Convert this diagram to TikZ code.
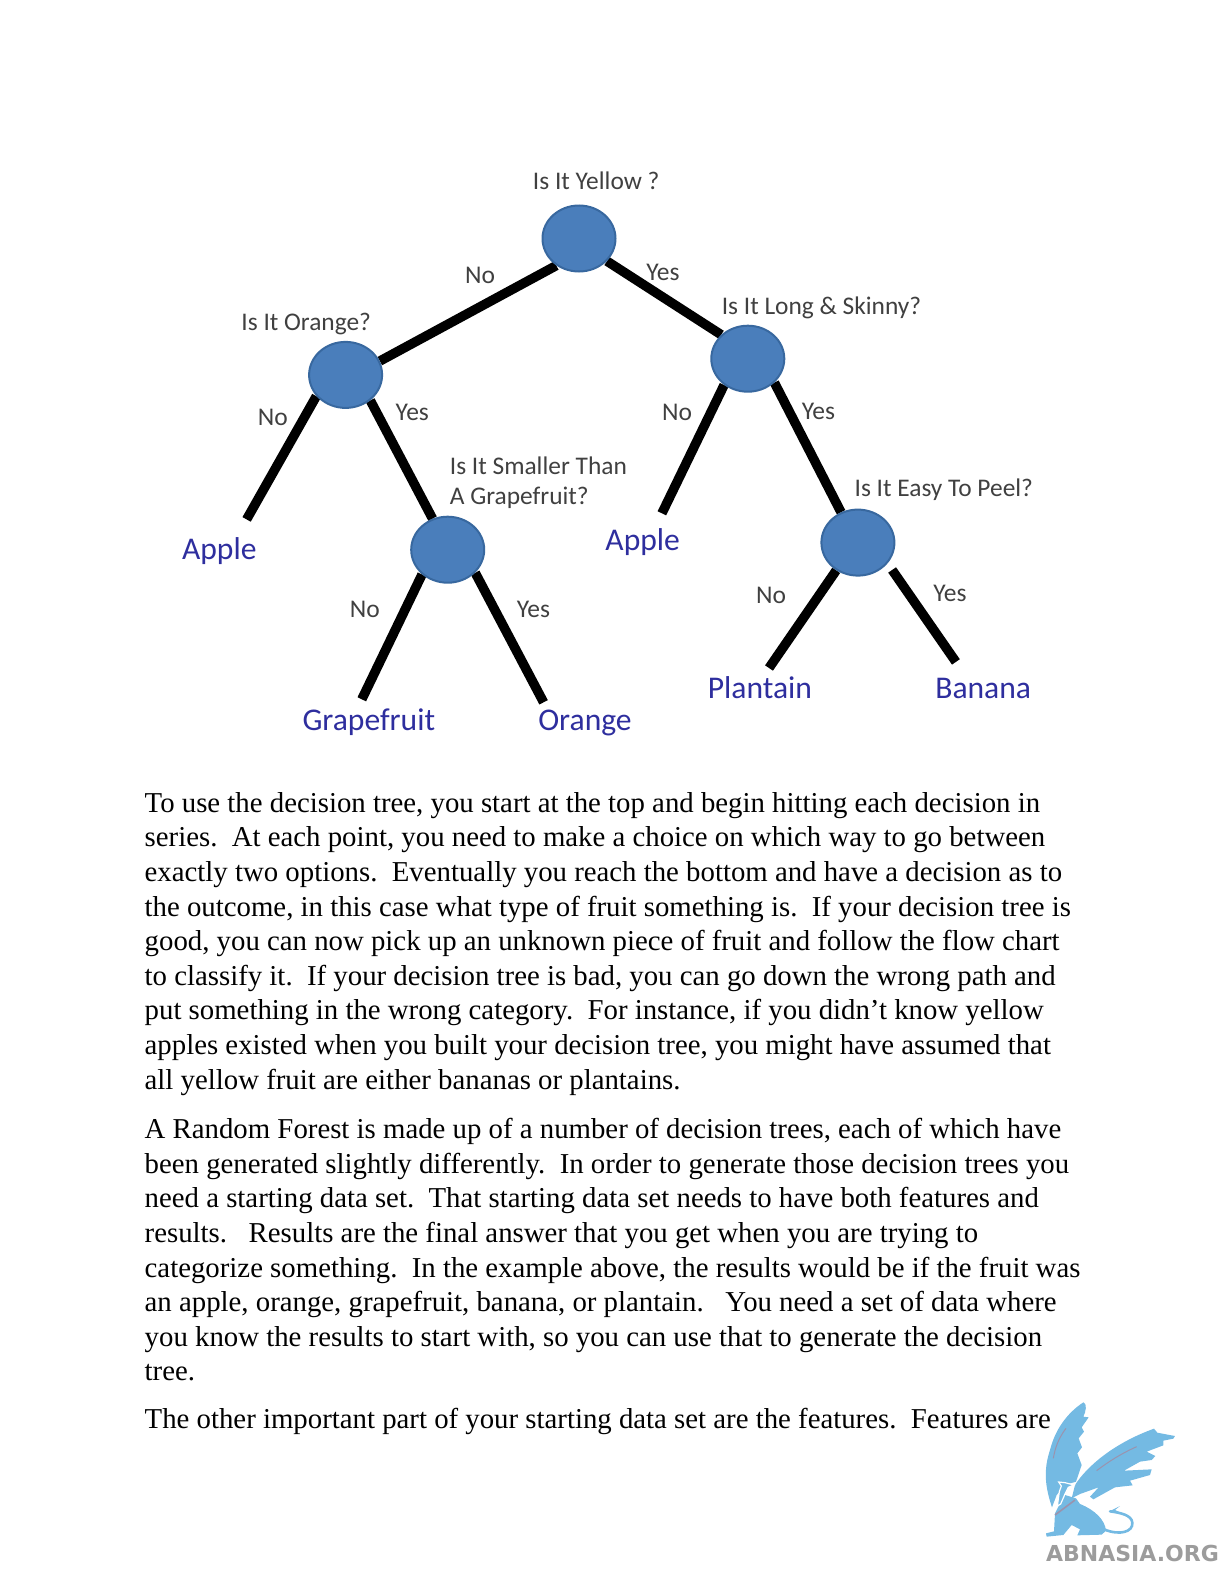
\documentclass[tikz,border=0pt]{standalone}
\usepackage{fontspec}
\setmainfont{Liberation Serif}
\newfontfamily\calibrifont{Carlito}
\newfontfamily\logofont{DejaVu Sans}
\usetikzlibrary{positioning, shapes.geometric, backgrounds}

\definecolor{nodeblue}{HTML}{4A7EBB}
\definecolor{nodeedge}{HTML}{38689F}
\definecolor{leafblue}{HTML}{2E2E9E}
\definecolor{labelgray}{HTML}{404040}
\definecolor{griffin}{HTML}{74BAE3}
\definecolor{streak}{HTML}{9A93AE}
\definecolor{logogray}{HTML}{9C9C9C}

\begin{document}
\begin{tikzpicture}[
    x=1pt, y=-1pt,
    % Styles
    decision/.style={ellipse, draw=nodeedge, fill=nodeblue, line width=2pt, minimum width=73pt, minimum height=66pt, inner sep=0pt},
    branch/.style={line width=9.5pt, black},
    question/.style={font=\calibrifont\fontsize{25.4}{30.3}\selectfont, text=labelgray, inner sep=0pt, align=left},
    answer/.style={font=\calibrifont\fontsize{25.5}{28}\selectfont, text=labelgray, inner sep=0pt},
    leaf/.style={font=\calibrifont\fontsize{31.6}{36}\selectfont, text=leafblue, inner sep=0pt},
    para/.style={font=\fontsize{28.8}{34.6}\selectfont, anchor=north west, align=left, inner sep=0pt},
]

\useasboundingbox (0,0) rectangle (1224,1584);

% Decision nodes
\node[decision] (yellow) at (579,238.5) {};
\node[decision] (orange) at (345.6,374.9) {};
\node[decision] (skinny) at (747.8,358.7) {};
\node[decision] (smaller) at (447.7,549.7) {};
\node[decision] (peel) at (857.9,542.6) {};

% Questions
\node[question] (qyellow) at (596.2,180.9) {Is It Yellow ?};
\node[question] (qorange) at (306.2,324.4) {Is It Orange?};
\node[question] (qskinny) at (821.5,308.2) {Is It Long \& Skinny?};
\node[question, anchor=west] (qsmaller) at (449.7,482.5) {Is It Smaller Than\\A Grapefruit?};
\node[question] (qpeel) at (943.8,490) {Is It Easy To Peel?};

% Leaves
\node[leaf] (apple1) at (219.3,550.7) {Apple};
\node[leaf] (apple2) at (642.7,541.6) {Apple};
\node[leaf] (grapefruit) at (368.8,722.5) {Grapefruit};
\node[leaf] (orangefruit) at (585,722.5) {Orange};
\node[leaf] (plantain) at (759.9,687.2) {Plantain};
\node[leaf] (banana) at (983.2,688.2) {Banana};

% Free ends of the branches
\coordinate (apple1end) at (246.6,519.4);
\coordinate (apple2end) at (661.9,513.3);
\coordinate (grapefruitend) at (361.8,699.3);
\coordinate (orangeend) at (543.6,702.3);
\coordinate (plantainend) at (769,668);
\coordinate (bananaend) at (955.9,661.9);

% Branches
\begin{scope}[on background layer]
    \draw[branch] (yellow.230) -- (orange.22);
    \draw[branch] (yellow.321) -- (skinny.138);
    \draw[branch] (orange.216) -- (apple1end);
    \draw[branch] (orange.314) -- (smaller.116);
    \draw[branch] (skinny.228) -- (apple2end);
    \draw[branch] (skinny.318) -- (peel.119);
    \draw[branch] (smaller.224) -- (grapefruitend);
    \draw[branch] (smaller.320) -- (orangeend);
    \draw[branch] (peel.232) -- (plantainend);
    \draw[branch, shorten <=8pt] (peel.325) -- (bananaend);
\end{scope}

% Branch labels
\node[answer] (no1) at (480,275.9) {No};
\node[answer] (yes1) at (662.9,272.8) {Yes};
\node[answer] (no2) at (272.8,417.3) {No};
\node[answer] (yes2) at (412.3,412.3) {Yes};
\node[answer] (no3) at (677,412.3) {No};
\node[answer] (yes3) at (818.5,411.3) {Yes};
\node[answer] (no4) at (364.8,609.3) {No};
\node[answer] (yes4) at (533.5,609.3) {Yes};
\node[answer] (no5) at (771,595.2) {No};
\node[answer] (yes5) at (949.9,593.2) {Yes};

% Body text
\node[para] (first) at (144.5,792.2) {To use the decision tree, you start at the top and begin hitting each decision in\\
series.\ \ At each point, you need to make a choice on which way to go between\\
exactly two options.\ \ Eventually you reach the bottom and have a decision as to\\
the outcome, in this case what type of fruit something is.\ \ If your decision tree is\\
good, you can now pick up an unknown piece of fruit and follow the flow chart\\
to classify it.\ \ If your decision tree is bad, you can go down the wrong path and\\
put something in the wrong category.\ \ For instance, if you didn’t know yellow\\
apples existed when you built your decision tree, you might have assumed that\\
all yellow fruit are either bananas or plantains.};

\node[para] (second) at (144.5,1118.2) {A Random Forest is made up of a number of decision trees, each of which have\\
been generated slightly differently.\ \ In order to generate those decision trees you\\
need a starting data set.\ \ That starting data set needs to have both features and\\
results.\ \ \ Results are the final answer that you get when you are trying to\\
categorize something.\ \ In the example above, the results would be if the fruit was\\
an apple, orange, grapefruit, banana, or plantain.\ \ \ You need a set of data where\\
you know the results to start with, so you can use that to generate the decision\\
tree.};

\node[para] (third) at (144.5,1408.2) {The other important part of your starting data set are the features.\ \ Features are};

% Griffin
\begin{scope}[shift={(1000,1370)}, x=0.3333pt, y=-0.3333pt]
    % left wing
    \fill[griffin] (250,97) .. controls (262,100) and (258,125) .. (250,140) -- (266,142) -- (245,172) -- (252,185) -- (236,205) -- (246,232) -- (232,250) -- (245,285) -- (228,335) -- (195,345) -- (170,375) -- (156,412)
        .. controls (135,350) and (130,300) .. (150,240) .. controls (165,180) and (200,130) .. (250,97) -- cycle;
    % right wing
    \fill[griffin] (225,345) .. controls (260,290) and (340,220) .. (462,176) -- (472,188) -- (525,198) -- (520,206) -- (490,212) -- (490,226) -- (440,245) -- (466,258) -- (455,270) -- (420,275) -- (372,302) -- (455,298) -- (450,315) -- (390,332) -- (398,346) -- (345,352) -- (280,388) -- (270,380) -- (296,352) -- (240,372) -- (215,385) -- cycle;
    % body
    \fill[griffin] (195,375) -- (228,385) -- (240,402) .. controls (285,420) and (315,450) .. (318,482) -- (305,494) -- (232,496) -- (240,478) -- (215,465) -- (190,495) -- (140,500) -- (138,490) -- (162,484) -- (165,430) -- (180,400) -- cycle;
    % tail
    \draw[griffin, line width=2.6pt, line cap=round] (312,478) .. controls (360,498) and (400,485) .. (397,458) .. controls (395,435) and (360,428) .. (330,424);
    \fill[griffin] (328,424) -- (360,408) -- (345,420) -- (362,428) -- cycle;
    % head
    \draw[white, line width=1.2pt, fill=griffin] (176,336) -- (195,338) -- (222,345) -- (205,352) -- (195,372) -- (182,402) -- (172,408) -- (178,365) -- (184,348) -- cycle;
    % streaks
    \draw[streak, line width=1pt] (198,175) .. controls (175,205) and (165,235) .. (160,265);
    \draw[streak, line width=1pt] (410,230) .. controls (365,250) and (325,275) .. (290,302);
    \draw[streak, line width=1.6pt] (225,390) -- (165,435);
\end{scope}

\node[font=\logofont\bfseries\fontsize{22}{24}\selectfont, text=logogray, inner sep=0pt] (logotext) at (1132.5,1553) {ABNASIA.ORG};

\end{tikzpicture}
\end{document}
